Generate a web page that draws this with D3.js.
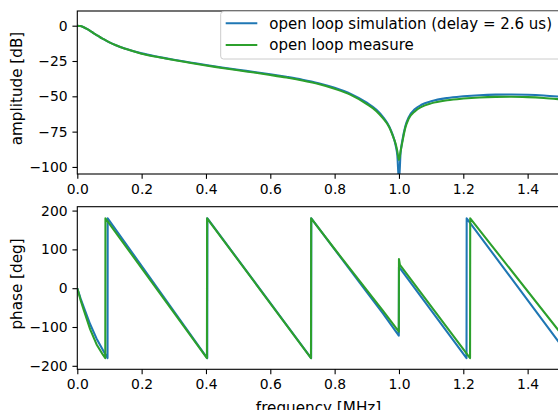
<!DOCTYPE html>
<html>
<head>
<meta charset="utf-8">
<script src="https://cdn.jsdelivr.net/npm/d3@7"></script>
<style>
  body { margin: 0; background: #fff; }
  text { font-family: "DejaVu Sans", sans-serif; }
</style>
</head>
<body>
<div id="chart"></div>
<script>
// amplitude (dB) vs frequency (MHz)
const ampFreq = [0, 0.01, 0.02, 0.03, 0.04, 0.05, 0.06, 0.07, 0.08, 0.1, 0.12, 0.15,
  0.2, 0.25, 0.3, 0.35, 0.4, 0.45, 0.5, 0.55, 0.6, 0.65, 0.7, 0.75, 0.8, 0.85, 0.9,
  0.93, 0.95, 0.97, 0.98, 0.99, 0.995, 1.0, 1.005, 1.01, 1.02, 1.03, 1.05, 1.07, 1.1,
  1.15, 1.2, 1.25, 1.3, 1.35, 1.4, 1.45, 1.5];
const ampSim = [0, -0.3, -1.1, -2.3, -3.7, -5.2, -6.6, -8.0, -9.3, -11.8, -13.8, -16.3,
  -19.6, -22.0, -24.1, -26.0, -27.9, -29.6, -31.2, -32.8, -34.4, -36.2, -38.2, -40.7, -44.0, -48.3, -54.5,
  -59.5, -64.5, -71.5, -77, -85, -92, -110, -90, -82, -71, -65, -59, -56, -53.5,
  -51.2, -50.0, -49.2, -48.8, -48.7, -48.9, -49.4, -50.2];
const ampMeas = [0, -0.3, -1.1, -2.3, -3.7, -5.2, -6.6, -8.0, -9.3, -11.8, -13.9, -16.4,
  -19.8, -22.2, -24.3, -26.3, -28.2, -29.9, -31.6, -33.2, -34.9, -36.7, -38.8, -41.3, -44.7, -49.0, -55.5,
  -60.5, -65.5, -72, -77.5, -84, -89, -95, -89, -83, -72, -66, -60.5, -57.5, -55.0,
  -52.8, -51.6, -50.8, -50.4, -50.3, -50.6, -51.2, -52.1];

// phase (deg) vs frequency (MHz)
const phaseSimFreq = [0, 0.01, 0.02, 0.04, 0.06, 0.08, 0.094, 0.0945, 0.404, 0.4045,
  0.727, 0.7275, 0.8, 0.9, 0.95, 0.9995, 1.0, 1.21, 1.2105, 1.5];
const phaseSim = [0, -26, -49, -93, -130, -160, -180, 180, -180, 180,
  -180, 180, 100, -10, -65, -122, 55, -180, 180, -142];
const phaseMeasFreq = [0, 0.01, 0.02, 0.04, 0.06, 0.08, 0.087, 0.0875, 0.403, 0.4035,
  0.7265, 0.727, 0.8, 0.9, 0.95, 0.9995, 1.0, 1.003, 1.221, 1.2215, 1.5];
const phaseMeas = [0, -30, -56, -106, -145, -172, -180, 180, -180, 180,
  -180, 180, 101, -5, -58, -112, 75, 60, -180, 180, -113];

const xTicks = [0, 0.2, 0.4, 0.6, 0.8, 1.0, 1.2, 1.4];
const ampTicks = [0, -25, -50, -75, -100];
const phaseTicks = [200, 100, 0, -100, -200];
const seriesNames = ["open loop simulation (delay = 2.6 us)", "open loop measure"];
const colors = ["#1f77b4", "#2ca02c"];

const W = 558, H = 410;
const fs = 13.9, labelFs = 15.2, legendFs = 15;
const left = 77.3, right = 559.8;
const lw = 2.08, tickLen = 4.86;

const svg = d3.select("#chart").append("svg")
  .attr("width", W).attr("height", H);
svg.append("rect").attr("width", W).attr("height", H).attr("fill", "#fff");

const x = d3.scaleLinear().domain([0, 1.5]).range([left, right]);

function makeAxes(id, y0, y1, yDomain, yTicks, yLabel) {
  const y = d3.scaleLinear().domain(yDomain).range([y1, y0]);
  svg.append("clipPath").attr("id", id)
    .append("rect").attr("x", left).attr("y", y0)
    .attr("width", right - left).attr("height", y1 - y0);

  const g = svg.append("g");
  const plot = g.append("g").attr("clip-path", `url(#${id})`);

  // spines
  g.append("rect").attr("x", left).attr("y", y0)
    .attr("width", right - left).attr("height", y1 - y0)
    .attr("fill", "none").attr("stroke", "#000").attr("stroke-width", 1.1);

  const xAxis = d3.axisBottom(x).tickValues(xTicks).tickFormat(d3.format(".1f"))
    .tickSize(tickLen).tickPadding(4.86);
  const xg = g.append("g").attr("transform", `translate(0,${y1})`).call(xAxis);
  const yAxis = d3.axisLeft(y).tickValues(yTicks).tickFormat(d3.format("d"))
    .tickSize(tickLen).tickPadding(4.86);
  const yg = g.append("g").attr("transform", `translate(${left},0)`).call(yAxis);
  [xg, yg].forEach(a => {
    a.select(".domain").remove();
    a.selectAll("line").attr("stroke", "#000").attr("stroke-width", 1.1);
    a.selectAll("text").attr("font-size", fs).attr("fill", "#000")
      .attr("font-family", "DejaVu Sans");
  });

  g.append("text")
    .attr("transform", `translate(22,${(y0 + y1) / 2 - 4}) rotate(-90)`)
    .attr("text-anchor", "middle").attr("font-size", labelFs).attr("fill", "#000")
    .text(yLabel);

  return { y, plot };
}

const ampAxes = makeAxes("clipA", 11, 174, [-105, 10.4], ampTicks, "amplitude [dB]");
const phaseAxes = makeAxes("clipP", 206.7, 369.3, [-209, 210], phaseTicks, "phase [deg]");

function drawLine(plot, y, xs, ys, color, curve) {
  const line = d3.line().x(d => x(d[0])).y(d => y(d[1])).curve(curve);
  plot.append("path")
    .datum(xs.map((f, i) => [f, ys[i]]))
    .attr("fill", "none")
    .attr("stroke", color)
    .attr("stroke-width", lw)
    .attr("stroke-linejoin", "round")
    .attr("d", line);
}

drawLine(ampAxes.plot, ampAxes.y, ampFreq, ampSim, colors[0], d3.curveMonotoneX);
drawLine(ampAxes.plot, ampAxes.y, ampFreq, ampMeas, colors[1], d3.curveMonotoneX);
drawLine(phaseAxes.plot, phaseAxes.y, phaseSimFreq, phaseSim, colors[0], d3.curveLinear);
drawLine(phaseAxes.plot, phaseAxes.y, phaseMeasFreq, phaseMeas, colors[1], d3.curveLinear);

// x label (bottom axes only; partly below the frame, as in the original)
svg.append("text")
  .attr("x", (left + right) / 2).attr("y", 413)
  .attr("text-anchor", "middle").attr("font-size", labelFs).attr("fill", "#000")
  .text("frequency [MHz]");

// legend
const leg = svg.append("g");
leg.append("rect")
  .attr("x", 220.7).attr("y", 11.5).attr("width", 360).attr("height", 47.5)
  .attr("rx", 2.8)
  .attr("fill", "#fff").attr("fill-opacity", 0.8)
  .attr("stroke", "#cccccc").attr("stroke-width", 1);
seriesNames.forEach((name, i) => {
  const cy = 23.3 + i * 21.7;
  leg.append("line")
    .attr("x1", 225.7).attr("x2", 257.3).attr("y1", cy).attr("y2", cy)
    .attr("stroke", colors[i]).attr("stroke-width", lw);
  leg.append("text")
    .attr("x", 269.3).attr("y", cy + 5.3)
    .attr("font-size", legendFs).attr("fill", "#000")
    .text(name);
});
</script>
</body>
</html>
